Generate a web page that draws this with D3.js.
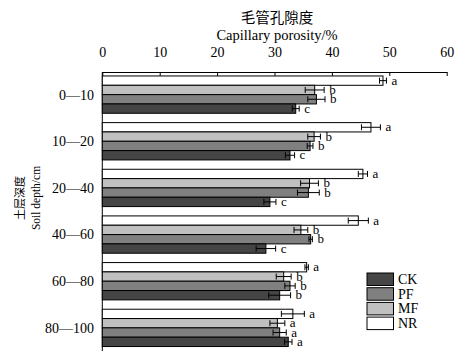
<!DOCTYPE html>
<html>
<head>
<meta charset="utf-8">
<script src="https://cdn.jsdelivr.net/npm/d3@7"></script>
<style>
  html, body { margin: 0; padding: 0; background: #fff; }
  svg { display: block; }
  text { font-family: "Liberation Serif", "DejaVu Serif", serif; fill: #000; }
  .cjk { font-family: "Noto Sans CJK SC", sans-serif; }
</style>
</head>
<body>
<svg id="chart" width="464" height="357"></svg>
<script>
// ---- data ----
const depths = ["0—10", "10—20", "20—40", "40—60", "60—80", "80—100"];
const seriesOrder = ["NR", "MF", "PF", "CK"];          // top to bottom inside each group
const legendOrder = ["CK", "PF", "MF", "NR"];
const xTicks = [0, 10, 20, 30, 40, 50, 60];

const NR = [48.9, 46.8, 45.4, 44.6, 35.6, 33.2];
const NR_err = [0.6, 1.65, 0.8, 1.75, 0.3, 2.0];
const NR_sig = ["a", "a", "a", "a", "a", "a"];

const MF = [37.0, 36.9, 36.1, 34.6, 31.6, 30.5];
const MF_err = [1.65, 1.1, 1.55, 1.2, 1.3, 1.3];
const MF_sig = ["b", "b", "b", "b", "b", "a"];

const PF = [37.3, 36.2, 35.9, 36.3, 32.7, 30.9];
const PF_err = [1.5, 0.5, 1.9, 0.3, 0.9, 1.15];
const PF_sig = ["b", "b", "b", "b", "b", "a"];

const CK = [33.7, 32.7, 29.2, 28.5, 30.9, 32.4];
const CK_err = [0.6, 0.8, 1.05, 1.7, 1.9, 0.65];
const CK_sig = ["c", "c", "c", "c", "b", "a"];

const colors = { CK: "#454545", PF: "#808080", MF: "#c0c0c0", NR: "#ffffff" };

const table = { NR: [NR, NR_err, NR_sig], MF: [MF, MF_err, MF_sig], PF: [PF, PF_err, PF_sig], CK: [CK, CK_err, CK_sig] };
const rows = [];
depths.forEach((d, i) => {
  seriesOrder.forEach(s => {
    rows.push({ depth: d, series: s, value: table[s][0][i], err: table[s][1][i], sig: table[s][2][i] });
  });
});

// ---- layout ----
const svg = d3.select("#chart");
const x = d3.scaleLinear().domain([0, 60]).range([102.3, 446.7]);
const y0 = d3.scaleBand().domain(depths).range([71.3, 351.2]).paddingInner(0.2).paddingOuter(0.1);
const y1 = d3.scaleBand().domain(seriesOrder).range([0, y0.bandwidth()]);
const axisY = 72;

// titles
svg.append("text").attr("class", "cjk").attr("x", 277).attr("y", 23)
  .attr("text-anchor", "middle").attr("font-size", 14.5).text("毛管孔隙度");
svg.append("text").attr("x", 277).attr("y", 40)
  .attr("text-anchor", "middle").attr("font-size", 14.5).text("Capillary porosity/%");

// top axis
const xAxis = d3.axisTop(x).tickValues(xTicks).tickFormat(d3.format("d"))
  .tickSizeInner(-4).tickSizeOuter(0).tickPadding(15);
const gx = svg.append("g").attr("transform", `translate(0,${axisY})`).call(xAxis);
gx.selectAll("text").attr("font-size", 14).attr("font-family", "Liberation Serif, serif");
gx.selectAll("line, path").attr("stroke", "#000");

// left axis line
svg.append("line").attr("x1", x(0)).attr("x2", x(0)).attr("y1", axisY).attr("y2", 351)
  .attr("stroke", "#000");

// depth labels
svg.append("g").selectAll("text").data(depths).join("text")
  .attr("x", 94).attr("y", d => y0(d) + y0.bandwidth() / 2)
  .attr("dy", "0.35em").attr("text-anchor", "end").attr("font-size", 14)
  .text(d => d);

// y title
const yt = svg.append("g").attr("transform", "translate(0,198)");
yt.append("text").attr("class", "cjk").attr("transform", "translate(24,0) rotate(-90)")
  .attr("text-anchor", "middle").attr("font-size", 11).text("土层深度");
yt.append("text").attr("transform", "translate(40,0) rotate(-90)")
  .attr("text-anchor", "middle").attr("font-size", 11.5).text("Soil depth/cm");

// bars
const g = svg.append("g");
const barY = d => y0(d.depth) + y1(d.series);
g.selectAll("rect.bar").data(rows).join("rect").attr("class", "bar")
  .attr("x", x(0)).attr("y", barY)
  .attr("width", d => x(d.value) - x(0)).attr("height", y1.bandwidth())
  .attr("fill", d => colors[d.series]).attr("stroke", "#000").attr("stroke-width", 1);

// error bars
const cy = d => barY(d) + y1.bandwidth() / 2;
const eb = g.selectAll("g.err").data(rows).join("g").attr("class", "err")
  .attr("stroke", "#000").attr("stroke-width", 1);
eb.append("line").attr("x1", d => x(d.value - d.err)).attr("x2", d => x(d.value + d.err))
  .attr("y1", cy).attr("y2", cy);
eb.append("line").attr("x1", d => x(d.value - d.err)).attr("x2", d => x(d.value - d.err))
  .attr("y1", d => cy(d) - 3).attr("y2", d => cy(d) + 3);
eb.append("line").attr("x1", d => x(d.value + d.err)).attr("x2", d => x(d.value + d.err))
  .attr("y1", d => cy(d) - 3).attr("y2", d => cy(d) + 3);

// significance letters
g.selectAll("text.sig").data(rows).join("text").attr("class", "sig")
  .attr("x", d => x(d.value + d.err) + 5).attr("y", d => cy(d) + 4)
  .attr("font-size", 13).text(d => d.sig);

// legend
const lg = svg.append("g").attr("transform", "translate(367,273)");
const li = lg.selectAll("g").data(legendOrder).join("g")
  .attr("transform", (d, i) => `translate(0,${i * 14.7})`);
li.append("rect").attr("width", 26.5).attr("height", 12.5)
  .attr("fill", d => colors[d]).attr("stroke", "#000");
li.append("text").attr("x", 31).attr("y", 11).attr("font-size", 14).text(d => d);
</script>
</body>
</html>
